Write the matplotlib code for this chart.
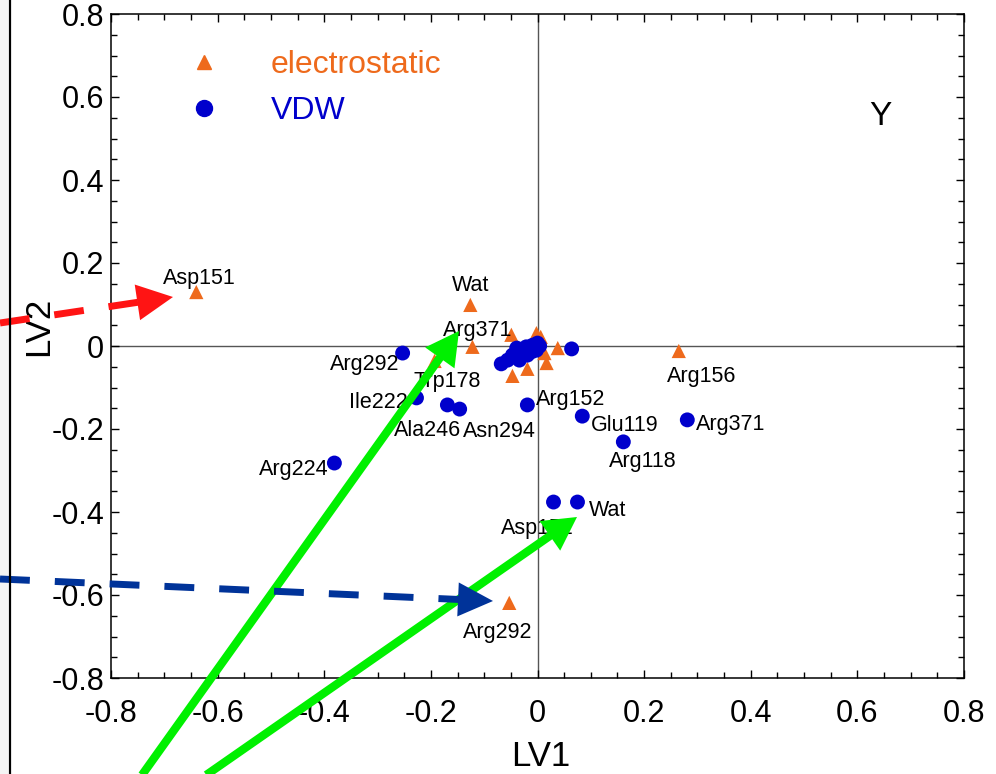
import matplotlib
matplotlib.use('Agg')
import matplotlib.pyplot as plt
from matplotlib.ticker import MultipleLocator, FixedLocator, FixedFormatter
from matplotlib.lines import Line2D
from matplotlib.patches import Polygon, Rectangle
import numpy as np

plt.rcParams['font.family'] = ['Liberation Sans', 'DejaVu Sans']
plt.rcParams['axes.unicode_minus'] = False

# ---------------- data ----------------
elec_x = [-0.640, -0.126, -0.122, 0.265, -0.053, -0.193,
          -0.049, -0.002, 0.006, 0.013, 0.017, 0.038, -0.019, -0.047]
elec_y = [0.130, 0.099, -0.002, -0.012, -0.619, -0.036,
          0.027, 0.031, 0.022, -0.017, -0.041, -0.005, -0.055, -0.072]
elec_labels = ['Asp151', 'Wat', 'Arg371', 'Arg156', 'Arg292', 'Trp178',
               '', '', '', '', '', '', '', '']

vdw_x = [-0.253, -0.227, -0.169, -0.146, -0.381, -0.019, 0.084, 0.161, 0.281,
         0.075, 0.030, 0.064,
         -0.068, -0.056, -0.047, -0.039, -0.028, -0.019, -0.009, 0.000,
         -0.002, -0.034, -0.021, -0.011, 0.004]
vdw_y = [-0.017, -0.125, -0.142, -0.152, -0.282, -0.142, -0.169, -0.231, -0.178,
         -0.376, -0.376, -0.007,
         -0.043, -0.034, -0.022, -0.005, -0.014, -0.022, 0.002, 0.007,
         -0.010, -0.034, -0.002, -0.014, 0.000]
vdw_labels = ['Arg292', 'Ile222', 'Ala246', 'Asn294', 'Arg224', 'Arg152', 'Glu119',
              'Arg118', 'Arg371', 'Wat', 'Asp151', '',
              '', '', '', '', '', '', '', '', '', '', '', '', '']

tick_values = [-0.8, -0.6, -0.4, -0.2, 0.0, 0.2, 0.4, 0.6, 0.8]
tick_labels = ['-0.8', '-0.6', '-0.4', '-0.2', '0', '0.2', '0.4', '0.6', '0.8']

series_names = ['electrostatic', 'VDW']

# ---------------- styles / positions ----------------
ORANGE = '#ee6a1c'
BLUE = '#0000cc'
W, H = 996, 774
LABEL_FS = 15.5

# label offsets (points) relative to each marker
elec_off = [(2, 10), (0, 14), (4, 11.5), (16.5, -18.5), (-8, -21), (9, -15),
            (0, 0), (0, 0), (0, 0), (0, 0), (0, 0), (0, 0), (0, 0), (0, 0)]
vdw_off = [(-27, -8), (-27.5, -3), (-14.4, -18.7), (28.8, -15.8), (-29, -4.3),
           (31, 3.6), (30.5, -6.5), (13.7, -14.4), (31, -3), (21.5, -5.8),
           (-11.5, -18.7)] + [(0, 0)] * 14

fig = plt.figure(figsize=(W / 100, H / 100), dpi=100)
ax = fig.add_axes([111 / W, 1 - 678 / H, (964 - 111) / W, (678 - 14) / H])

ax.axhline(0, color='#555555', lw=1.0, zorder=1)
ax.axvline(0, color='#555555', lw=1.0, zorder=1)

ax.scatter(elec_x, elec_y, marker='^', s=105, color=ORANGE, edgecolors='none', zorder=3)
ax.scatter(vdw_x, vdw_y, marker='o', s=115, color=BLUE, edgecolors='none', zorder=4)

for x, y, lab, off in zip(elec_x, elec_y, elec_labels, elec_off):
    if lab:
        ax.annotate(lab, (x, y), xytext=off, textcoords='offset points',
                    ha='center', va='center', fontsize=LABEL_FS, color='black', zorder=5)
for x, y, lab, off in zip(vdw_x, vdw_y, vdw_labels, vdw_off):
    if lab:
        ax.annotate(lab, (x, y), xytext=off, textcoords='offset points',
                    ha='center', va='center', fontsize=LABEL_FS, color='black', zorder=5)

ax.set_xlim(-0.8, 0.8)
ax.set_ylim(-0.8, 0.8)
ax.xaxis.set_major_locator(FixedLocator(tick_values))
ax.xaxis.set_major_formatter(FixedFormatter(tick_labels))
ax.yaxis.set_major_locator(FixedLocator(tick_values))
ax.yaxis.set_major_formatter(FixedFormatter(tick_labels))
ax.xaxis.set_minor_locator(MultipleLocator(0.05))
ax.yaxis.set_minor_locator(MultipleLocator(0.05))
ax.tick_params(which='both', direction='in', top=True, right=True, width=1.0, color='black')
ax.tick_params(which='major', length=6)
ax.tick_params(which='minor', length=4)
ax.tick_params(axis='x', which='major', labelsize=22, pad=15)
ax.tick_params(axis='y', which='major', labelsize=22, pad=5)
for s in ax.spines.values():
    s.set_linewidth(1.1)
    s.set_color('black')

ax.set_xlabel('LV1', fontsize=25)
ax.set_ylabel('LV2', fontsize=25)
ax.xaxis.set_label_coords(0.504, -0.094)
ax.yaxis.set_label_coords(-0.066, 0.53)

ax.text(0.902, 0.845, 'Y', transform=ax.transAxes, fontsize=24, ha='center', va='center')

handles = [Line2D([], [], marker='^', ls='none', color=ORANGE, markersize=10),
           Line2D([], [], marker='o', ls='none', color=BLUE, markersize=11.5)]
leg = ax.legend(handles, series_names, loc='upper left', bbox_to_anchor=(0.0715, 0.946),
                frameon=False, fontsize=23, borderpad=0, borderaxespad=0,
                handlelength=2.0, handletextpad=1.1, labelspacing=0.5)
for t, c in zip(leg.get_texts(), [ORANGE, BLUE]):
    t.set_color(c)

# ---------------- overlay arrows (figure pixel coords) ----------------
def fp(p):
    return (p[0] / W, 1 - p[1] / H)

def draw_arrow(tail, tip, color, lw, dashed, hl, hw):
    t = np.array(tail, float)
    p = np.array(tip, float)
    d = p - t
    u = d / np.hypot(*d)
    n = np.array([-u[1], u[0]])
    base = p - u * hl
    end = base + u * 3
    a, b = fp(t), fp(end)
    ls = (0, (4.3, 3.6)) if dashed else '-'
    fig.add_artist(Line2D([a[0], b[0]], [a[1], b[1]], transform=fig.transFigure,
                          color=color, lw=lw, linestyle=ls, solid_capstyle='butt',
                          dash_capstyle='butt', zorder=10))
    pts = [fp(p), fp(base + n * hw / 2), fp(base - n * hw / 2)]
    fig.add_artist(Polygon(pts, closed=True, transform=fig.transFigure,
                           facecolor=color, edgecolor='none', zorder=10))

GREEN = '#00f000'
draw_arrow((127, 796), (459, 331), GREEN, 6, False, 33, 36)
draw_arrow((189, 787), (577, 517), GREEN, 6, False, 33, 36)
draw_arrow((0, 323), (173, 297), '#ff1414', 5, True, 36, 36)
draw_arrow((0, 579), (493, 601), '#003399', 5, True, 35, 34)

# left border strip
fig.add_artist(Rectangle((0, 0), 8 / W, 1, transform=fig.transFigure,
                         facecolor='#f4f4f4', edgecolor='none', zorder=0))
fig.add_artist(Line2D([9.5 / W, 9.5 / W], [0, 1], transform=fig.transFigure,
                      color='black', lw=1.6, zorder=11))

fig.savefig('out.png', dpi=100)
